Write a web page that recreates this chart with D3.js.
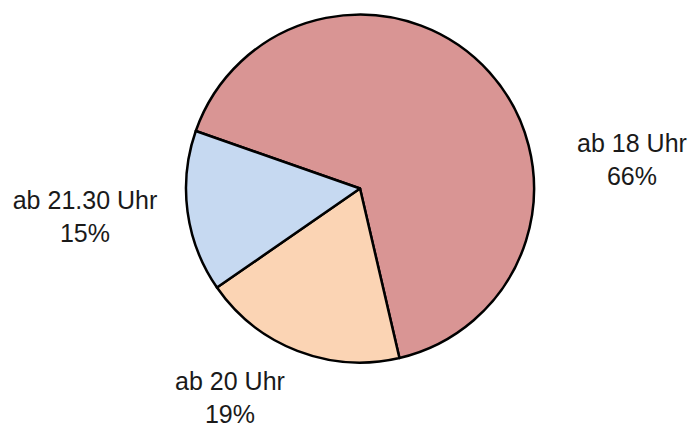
<!DOCTYPE html>
<html>
<head>
<meta charset="utf-8">
<script src="https://cdn.jsdelivr.net/npm/d3@7"></script>
<style>
  html, body { margin: 0; padding: 0; background: #fff; }
  svg { display: block; }
  .label { font-family: "Liberation Sans", Arial, sans-serif; font-size: 25px; fill: #1a1a1a; }
</style>
</head>
<body>
<svg id="chart"></svg>
<script>
const categories = ['ab 18 Uhr', 'ab 20 Uhr', 'ab 21.30 Uhr'];
const shares = [66, 19, 15];
const colors = ['#D99594', '#FBD4B4', '#C6D9F1'];

// label anchor positions (centre of two-line label, first-line baseline)
const labelAnchors = [[632, 152], [230, 390], [85, 209]];

const width = 691;
const height = 430;
const cx = 360;
const cy = 188.5;
const radius = 174;

const svg = d3.select('#chart')
  .attr('width', width)
  .attr('height', height);

const data = categories.map((c, i) => ({ name: c, value: shares[i] }));

const pie = d3.pie()
  .sort(null)
  .value(d => d.value)
  .startAngle(-70.7 * Math.PI / 180)
  .endAngle(-70.7 * Math.PI / 180 + 2 * Math.PI);

const arc = d3.arc().innerRadius(0).outerRadius(radius);

const color = d3.scaleOrdinal().domain(categories).range(colors);

const g = svg.append('g')
  .attr('transform', `translate(${cx}, ${cy})`);

g.selectAll('path.slice')
  .data(pie(data))
  .enter().append('path')
    .attr('class', 'slice')
    .attr('d', arc)
    .attr('fill', d => color(d.data.name))
    .attr('stroke', '#000')
    .attr('stroke-width', 2.5)
    .attr('stroke-linejoin', 'round');

const labels = svg.selectAll('text.label')
  .data(data)
  .enter().append('text')
    .attr('class', 'label')
    .attr('text-anchor', 'middle')
    .attr('x', (d, i) => labelAnchors[i][0])
    .attr('y', (d, i) => labelAnchors[i][1]);

labels.append('tspan')
  .attr('x', (d, i) => labelAnchors[i][0])
  .text(d => d.name);

labels.append('tspan')
  .attr('x', (d, i) => labelAnchors[i][0])
  .attr('dy', 33)
  .text(d => d.value + '%');
</script>
</body>
</html>
